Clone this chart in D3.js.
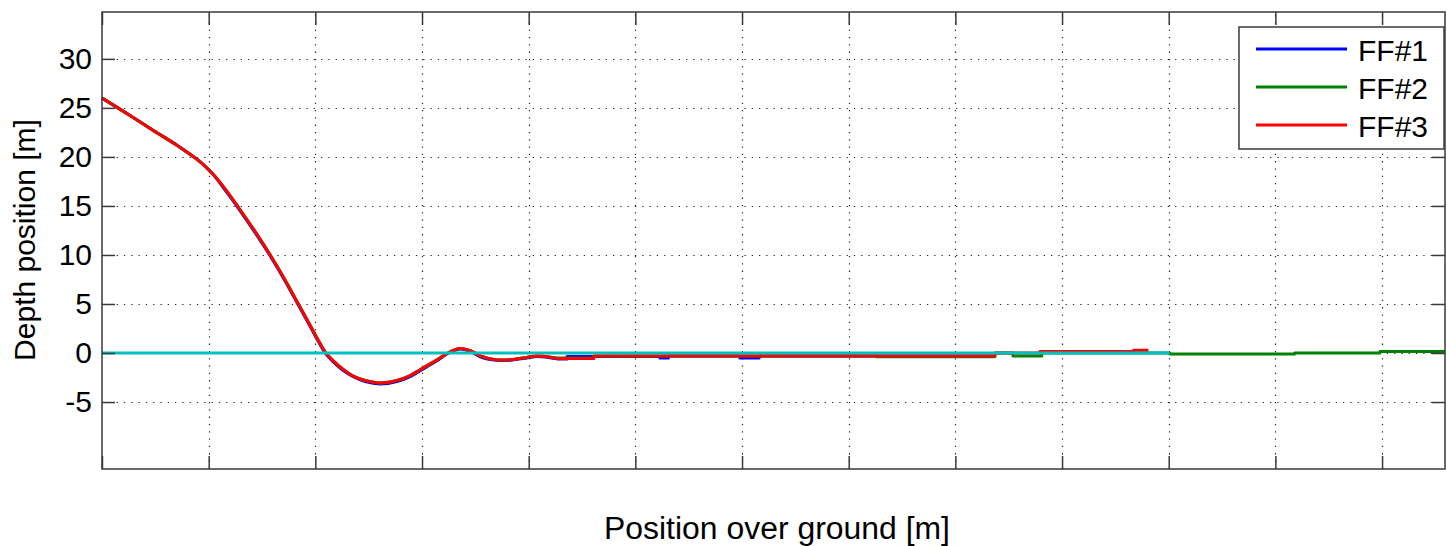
<!DOCTYPE html>
<html>
<head>
<meta charset="utf-8">
<script src="https://cdn.jsdelivr.net/npm/d3@7"></script>
<style>
  html, body { margin: 0; padding: 0; background: #fff; }
  svg { display: block; font-family: "Liberation Sans", Arial, Helvetica, sans-serif; }
</style>
</head>
<body>
<svg id="chart" width="1447" height="546"></svg>
<script>
// Axis ticks
const xTickValues = [0, 1, 2, 3, 4, 5, 6, 7, 8, 9, 10, 11, 12];
const yTickValues = [-5, 0, 5, 10, 15, 20, 25, 30];

// Series names and colours
const seriesNames = ["FF#1", "FF#2", "FF#3"];
const seriesColors = ["#0000ff", "#008000", "#ff0000"];

// Smooth dive section: position over ground and depth for each fish
const posSmooth = [0, 0.237, 0.481, 0.715, 0.921, 1.043, 1.128, 1.231, 1.352, 1.465, 1.577, 1.708, 1.83, 1.952, 2.027, 2.093, 2.168, 2.252, 2.355, 2.468, 2.608, 2.765, 2.889, 2.983, 3.14, 3.233, 3.358, 3.483, 3.545, 3.702, 3.855, 3.983, 4.077, 4.155, 4.264];
const depthFF1 = [26.0, 24.4, 22.7, 21.1, 19.5, 18.2, 17.0, 15.5, 13.6, 11.8, 9.9, 7.5, 5.1, 2.7, 1.2, 0.0, -0.9, -1.7, -2.4, -2.9, -3.15, -2.9, -2.4, -1.8, -0.8, -0.1, 0.4, 0.0, -0.4, -0.75, -0.7, -0.5, -0.35, -0.4, -0.6];
const depthFF2 = [26.0, 24.4, 22.7, 21.1, 19.5, 18.2, 17.1, 15.6, 13.7, 11.9, 10.0, 7.6, 5.2, 2.8, 1.3, 0.1, -0.8, -1.6, -2.35, -2.8, -3.05, -2.8, -2.3, -1.7, -0.7, -0.05, 0.45, 0.1, -0.3, -0.7, -0.65, -0.45, -0.3, -0.35, -0.5];
const depthFF3 = [26.0, 24.4, 22.7, 21.1, 19.5, 18.2, 17.1, 15.6, 13.7, 11.9, 10.0, 7.6, 5.2, 2.8, 1.3, 0.1, -0.8, -1.6, -2.35, -2.8, -3.05, -2.8, -2.3, -1.7, -0.7, -0.05, 0.45, 0.1, -0.3, -0.7, -0.65, -0.45, -0.3, -0.35, -0.55];

// Level-flight section, logged as stepped depth readings (value holds until next position)
const posStepFF1 = [4.264, 4.36, 5.23, 5.31, 5.98, 6.16, 8.37];
const depthStepFF1 = [-0.6, -0.35, -0.5, -0.3, -0.5, -0.3, -0.3];
const posStepFF2 = [4.264, 4.61, 7.26, 8.37, 8.54, 8.81, 10.01, 11.18, 11.98, 12.59];
const depthStepFF2 = [-0.5, -0.3, -0.37, 0.0, -0.3, 0.0, -0.1, 0.0, 0.15, 0.15];
const posStepFF3 = [4.264, 4.61, 8.37, 8.79, 9.67, 9.81];
const depthStepFF3 = [-0.55, -0.3, 0.0, 0.15, 0.27, 0.27];

// Zero-depth reference line
const refPos = [0, 10.01];
const refDepth = [0, 0];

const svg = d3.select("#chart");
const W = 1447, H = 546;
const plot = { left: 102, top: 12, right: 1445, bottom: 469 };

svg.append("rect").attr("width", W).attr("height", H).attr("fill", "#fff");

const x = d3.scaleLinear().domain([0, 12.59]).range([plot.left, plot.right]);
const y = d3.scaleLinear().domain([-11.83, 34.78]).range([plot.bottom, plot.top]);

// Dotted grid
const grid = svg.append("g").attr("stroke", "#2a2a2a").attr("stroke-width", 1.2)
  .attr("stroke-dasharray", "1.3,6");
grid.selectAll(".gx").data(xTickValues.filter(d => d > 0)).join("line")
  .attr("x1", d => Math.round(x(d)) + 0.5).attr("x2", d => Math.round(x(d)) + 0.5)
  .attr("y1", plot.bottom).attr("y2", plot.top);
grid.selectAll(".gy").data(yTickValues).join("line")
  .attr("y1", d => Math.round(y(d)) + 0.5).attr("y2", d => Math.round(y(d)) + 0.5)
  .attr("x1", plot.left).attr("x2", plot.right);

// Series
const smoothLine = d3.line().x(d => x(d[0])).y(d => y(d[1])).curve(d3.curveCatmullRom.alpha(0.5));
const stepLine = d3.line().x(d => x(d[0])).y(d => y(d[1])).curve(d3.curveStepAfter);

const series = [
  { smooth: d3.zip(posSmooth, depthFF1), step: d3.zip(posStepFF1, depthStepFF1) },
  { smooth: d3.zip(posSmooth, depthFF2), step: d3.zip(posStepFF2, depthStepFF2) },
  { smooth: d3.zip(posSmooth, depthFF3), step: d3.zip(posStepFF3, depthStepFF3) }
];

const lines = svg.append("g").attr("fill", "none").attr("stroke-linejoin", "round");
series.forEach((s, i) => {
  lines.append("path").attr("d", smoothLine(s.smooth))
    .attr("stroke", seriesColors[i]).attr("stroke-width", 3);
  lines.append("path").attr("d", stepLine(s.step))
    .attr("stroke", seriesColors[i]).attr("stroke-width", 3);
});

lines.append("path").attr("d", d3.line().x(d => x(d[0])).y(d => y(d[1]))(d3.zip(refPos, refDepth)))
  .attr("stroke", "#00bfbf").attr("stroke-width", 3);

// Axes with inward ticks on all four sides
const axisColor = "#3a3a3a";
const fontSize = 30;

const axLeft = svg.append("g").attr("transform", `translate(${plot.left},0)`)
  .call(d3.axisLeft(y).tickValues(yTickValues).tickSize(-13).tickPadding(10).tickFormat(d => String(d)));
const axRight = svg.append("g").attr("transform", `translate(${plot.right},0)`)
  .call(d3.axisRight(y).tickValues(yTickValues).tickSize(-13).tickFormat(""));
const axBottom = svg.append("g").attr("transform", `translate(0,${plot.bottom})`)
  .call(d3.axisBottom(x).tickValues(xTickValues).tickSize(-13).tickFormat(""));
const axTop = svg.append("g").attr("transform", `translate(0,${plot.top})`)
  .call(d3.axisTop(x).tickValues(xTickValues).tickSize(-13).tickFormat(""));

[axLeft, axRight, axBottom, axTop].forEach(g => {
  g.select(".domain").remove();
  g.selectAll(".tick line").attr("stroke", axisColor).attr("stroke-width", 1.5);
});
axLeft.selectAll(".tick text").attr("fill", "#000").attr("font-size", fontSize)
  .attr("font-family", "Liberation Sans, Arial, sans-serif");

svg.append("rect")
  .attr("x", plot.left).attr("y", plot.top)
  .attr("width", plot.right - plot.left).attr("height", plot.bottom - plot.top)
  .attr("fill", "none").attr("stroke", axisColor).attr("stroke-width", 1.5);

// Axis titles
svg.append("text").attr("transform", "translate(35,240) rotate(-90)")
  .attr("text-anchor", "middle").attr("font-size", fontSize).attr("fill", "#000")
  .text("Depth position [m]");
svg.append("text").attr("x", 777).attr("y", 539)
  .attr("text-anchor", "middle").attr("font-size", 31).attr("fill", "#000")
  .attr("textLength", 346).attr("lengthAdjust", "spacingAndGlyphs")
  .text("Position over ground [m]");

// Legend
const legend = svg.append("g");
legend.append("rect").attr("x", 1239).attr("y", 27).attr("width", 205).attr("height", 122)
  .attr("fill", "#fff").attr("stroke", axisColor).attr("stroke-width", 1.5);
seriesNames.forEach((name, i) => {
  const ly = 49 + i * 38;
  legend.append("line").attr("x1", 1256).attr("x2", 1347).attr("y1", ly).attr("y2", ly)
    .attr("stroke", seriesColors[i]).attr("stroke-width", 3);
  legend.append("text").attr("x", 1358).attr("y", ly + 12)
    .attr("font-size", fontSize).attr("fill", "#000").text(name);
});
</script>
</body>
</html>
